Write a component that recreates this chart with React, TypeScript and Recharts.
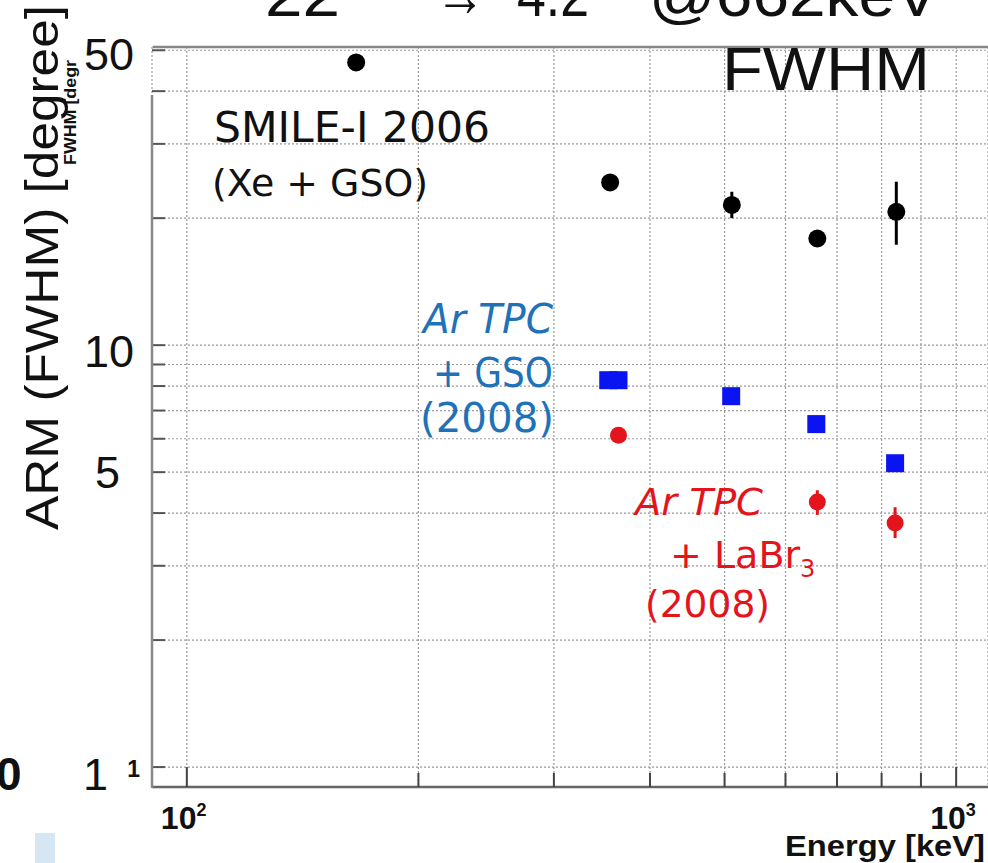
import { ScatterChart, Scatter, XAxis, YAxis, CartesianGrid, ErrorBar } from 'recharts';

// SMILE-I 2006 (Xe + GSO)
const smileEnergy = [166, 355, 511, 660, 836];
const smileArm = [46.8, 24.3, 21.5, 17.9, 20.7];
const smileErr: [number, number][] = [[0, 0], [0, 0], [1.5, 1.6], [0.6, 0.6], [3.4, 3.7]];

// Ar TPC + GSO (2008)
const gsoEnergy = [353, 364, 510, 658, 833];
const gsoArm = [8.26, 8.26, 7.57, 6.5, 5.25];

// Ar TPC + LaBr3 (2008)
const labrEnergy = [364, 660, 833];
const labrArm = [6.12, 4.25, 3.79];
const labrErr: [number, number][] = [[0, 0], [0.29, 0.28], [0.3, 0.34]];

const xTicks = [100, 200, 300, 400, 500, 600, 700, 800, 900, 1000];
const yTicks = [1, 2, 3, 4, 5, 6, 7, 8, 9, 10, 20, 30, 40, 50];
const yLabels = ['1', '5', '10', '50'];

const smileData = smileEnergy.map((e, i) => ({ e, v: smileArm[i], err: smileErr[i] }));
const gsoData = gsoEnergy.map((e, i) => ({ e, v: gsoArm[i] }));
const labrData = labrEnergy.map((e, i) => ({ e, v: labrArm[i], err: labrErr[i] }));

const BLUE = '#1f72b8';
const RED = '#e3141c';
const comic = '"DejaVu Sans", sans-serif';
const plain = '"Liberation Sans", Arial, sans-serif';

const XTick = (props: any) => {
  const { x, y, payload } = props;
  const v = payload.value;
  const exp = v === 100 ? '2' : v === 1000 ? '3' : null;
  return (
    <g>
      <line x1={x} y1={y} x2={x} y2={y - (exp ? 20 : 14)} stroke="#444" strokeWidth={2} />
      {exp && (
        <text x={x - 26} y={y + 42} fontFamily={plain} fontWeight="bold" fontSize={32} fill="#111">
          10<tspan dy={-13} fontSize={18}>{exp}</tspan>
        </text>
      )}
    </g>
  );
};

// where each big y label sits (right edge, baseline offset)
const labelPos: Record<string, { x: number; dy: number }> = {
  '50': { x: 134, dy: 20 },
  '10': { x: 134, dy: 22 },
  '5': { x: 120, dy: 16 },
  '1': { x: 108, dy: 23 },
};

const YTick = (props: any) => {
  const { x, y, payload } = props;
  const s = String(payload.value);
  const lp = labelPos[s];
  return (
    <g>
      <line x1={x} y1={y} x2={x + 13} y2={y} stroke="#555" strokeWidth={2} />
      {yLabels.includes(s) && (
        <text x={lp.x} y={y + lp.dy} textAnchor="end" fontFamily={plain} fontSize={45} fill="#111">
          {s}
        </text>
      )}
      {s === '1' && (
        <text x={140} y={y + 10} textAnchor="end" fontFamily={plain} fontWeight="bold" fontSize={23} fill="#111">
          1
        </text>
      )}
    </g>
  );
};

const dot = (r: number, color: string) => (p: any) => (
  <circle cx={p.cx} cy={p.cy} r={r} fill={color} />
);
const square = (p: any) => (
  <rect x={p.cx - 9} y={p.cy - 9} width={18} height={18} fill="#0a14f0" />
);

export default function App() {
  return (
    <div style={{ position: 'absolute', left: 0, top: 0, width: 988, height: 863, background: '#fff', overflow: 'hidden' }}>
      <ScatterChart width={988} height={863} margin={{ top: 47, right: 0, bottom: 75, left: 151 }}>
        <CartesianGrid stroke="#9a9a9a" strokeDasharray="2 2" strokeWidth={1.2} />
        <XAxis
          type="number"
          dataKey="e"
          scale="log"
          domain={[90.1, 1100]}
          allowDataOverflow
          ticks={xTicks}
          interval={0}
          height={1}
          tickSize={0}
          tickMargin={0}
          tick={<XTick />}
          axisLine={{ stroke: '#666', strokeWidth: 2.5 }}
        />
        <YAxis
          type="number"
          dataKey="v"
          scale="log"
          domain={[0.897, 50.9]}
          allowDataOverflow
          ticks={yTicks}
          interval={0}
          width={1}
          tickSize={0}
          tickMargin={0}
          tick={<YTick />}
          axisLine={false}
        />
        <Scatter data={smileData} shape={dot(9, '#000')} isAnimationActive={false}>
          <ErrorBar dataKey="err" direction="y" width={0} stroke="#000" strokeWidth={3} />
        </Scatter>
        <Scatter data={gsoData} shape={square} isAnimationActive={false} />
        <Scatter data={labrData} shape={dot(8.5, RED)} isAnimationActive={false}>
          <ErrorBar dataKey="err" direction="y" width={0} stroke={RED} strokeWidth={3} />
        </Scatter>
      </ScatterChart>

      <svg width={988} height={863} style={{ position: 'absolute', left: 0, top: 0, pointerEvents: 'none' }}>
        {/* frame pieces */}
        <line x1={153} y1={47} x2={988} y2={47} stroke="#888" strokeWidth={2.5} />
        <line x1={152} y1={95} x2={152} y2={788} stroke="#888" strokeWidth={2.5} />

        {/* title, cut by the top edge */}
        <g fontFamily={plain} fontSize={62} fill="#111">
          <text x={265} y={16} textLength={75} lengthAdjust="spacingAndGlyphs">22</text>
          <text x={435} y={16} textLength={50} lengthAdjust="spacingAndGlyphs">→</text>
          <text x={517} y={16} textLength={72} lengthAdjust="spacingAndGlyphs">4.2</text>
          <text x={649} y={16} textLength={290} lengthAdjust="spacingAndGlyphs">@662keV</text>
          <text x={722} y={90} textLength={208} lengthAdjust="spacingAndGlyphs">FWHM</text>
        </g>

        {/* axis titles */}
        <text transform="translate(58,530) rotate(-90)" fontFamily={plain} fontSize={46} fill="#111" textLength={525} lengthAdjust="spacingAndGlyphs">
          ARM (FWHM) [degree]
        </text>
        <text transform="translate(76,165) rotate(-90)" fontFamily={plain} fontWeight="bold" fontSize={16} fill="#111" textLength={105} lengthAdjust="spacingAndGlyphs">
          FWHM [degr
        </text>
        <text x={785} y={856} fontFamily={plain} fontWeight="bold" fontSize={30} fill="#111" textLength={200} lengthAdjust="spacingAndGlyphs">
          Energy [keV]
        </text>
        <text x={-4} y={790} fontFamily={plain} fontWeight="bold" fontSize={46} fill="#111">0</text>
        <rect x={35} y={833} width={20} height={30} fill="#d6e6f2" />

        {/* series annotations */}
        <g fontFamily={comic} fill="#111">
          <text x={214} y={142} fontSize={42} textLength={276} lengthAdjust="spacingAndGlyphs">SMILE-I 2006</text>
          <text x={212} y={196} fontSize={38} textLength={216} lengthAdjust="spacingAndGlyphs">(Xe + GSO)</text>
        </g>
        <g fontFamily={comic} fill={BLUE}>
          <text x={423} y={333} fontSize={40} fontStyle="italic" textLength={130} lengthAdjust="spacingAndGlyphs">Ar TPC</text>
          <text x={433} y={387} fontSize={40} textLength={120} lengthAdjust="spacingAndGlyphs">+ GSO</text>
          <text x={420} y={432} fontSize={40} textLength={134} lengthAdjust="spacingAndGlyphs">(2008)</text>
        </g>
        <g fontFamily={comic} fill={RED}>
          <text x={635} y={515} fontSize={38} fontStyle="italic" textLength={128} lengthAdjust="spacingAndGlyphs">Ar TPC</text>
          <text x={670} y={568} fontSize={38}>
            + LaBr<tspan dy={9} fontSize={24}>3</tspan>
          </text>
          <text x={645} y={617} fontSize={38} textLength={125} lengthAdjust="spacingAndGlyphs">(2008)</text>
        </g>
      </svg>
    </div>
  );
}
